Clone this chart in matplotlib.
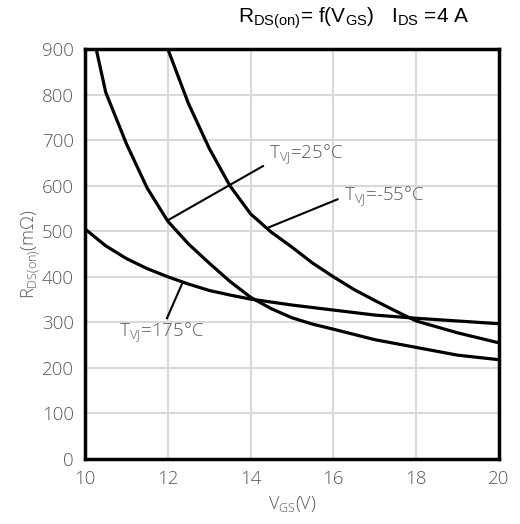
import matplotlib
matplotlib.use("Agg")
import matplotlib.pyplot as plt

# R_DS(on) vs V_GS at three junction temperatures
vgs_25 = [10.27, 10.5, 11.0, 11.5, 12.0, 12.5, 13.0, 13.5, 14.0, 14.5, 15.0, 15.5, 16.0, 17.0, 18.0, 19.0, 20.0]
r_25 = [900, 805, 692, 595, 522, 472, 430, 390, 355, 330, 310, 296, 285, 262, 245, 228, 218]

vgs_m55 = [12.0, 12.5, 13.0, 13.5, 14.0, 14.5, 15.0, 15.5, 16.0, 16.5, 17.0, 17.5, 18.0, 19.0, 20.0]
r_m55 = [900, 780, 682, 600, 538, 498, 465, 430, 400, 372, 348, 325, 303, 277, 255]

vgs_175 = [10.0, 10.5, 11.0, 11.5, 12.0, 12.5, 13.0, 13.5, 14.0, 15.0, 16.0, 17.0, 18.0, 19.0, 20.0]
r_175 = [505, 468, 440, 418, 400, 384, 370, 360, 351, 338, 327, 316, 309, 303, 297]

x_ticks = [10, 12, 14, 16, 18, 20]
y_ticks = [0, 100, 200, 300, 400, 500, 600, 700, 800, 900]

# curve labels: text, leader line start (on curve), leader line end, text anchor
labels = ["T$_{\\mathregular{VJ}}$=25°C", "T$_{\\mathregular{VJ}}$=-55°C", "T$_{\\mathregular{VJ}}$=175°C"]
leader_from = [(12.0, 524), (14.4, 507), (12.35, 386)]
leader_to = [(14.3, 643), (16.1, 570), (11.98, 309)]
label_at = [(14.45, 667), (16.25, 575), (11.85, 277)]
label_ha = ["left", "left", "center"]

GRAY = "#595959"
FAMILY = ["Open Sans", "DejaVu Sans"]

fig = plt.figure(figsize=(5.2, 5.24), dpi=100)
ax = fig.add_axes([0.1635, 0.124, 0.796, 0.7825])

for x, y in ((vgs_25, r_25), (vgs_m55, r_m55), (vgs_175, r_175)):
    ax.plot(x, y, color="black", lw=2.3, solid_capstyle="butt")

ax.set_xlim(10, 20)
ax.set_ylim(0, 900)
ax.set_xticks(x_ticks)
ax.set_yticks(y_ticks)
ax.grid(color="#d9d9d9", lw=1.5)
ax.set_axisbelow(True)
for s in ax.spines.values():
    s.set_linewidth(2.5)
ax.tick_params(length=0, pad=8, colors=GRAY, labelsize=13.5)
for lab in ax.get_xticklabels() + ax.get_yticklabels():
    lab.set_fontfamily(FAMILY)
    lab.set_fontweight("light")

ax.set_xlabel("V$_{\\mathregular{GS}}$(V)", color=GRAY, fontsize=13, labelpad=4,
              family=FAMILY, weight="light")
ax.set_ylabel("R$_{\\mathregular{DS(on)}}$(mΩ)", color=GRAY, fontsize=13, labelpad=0,
              family=FAMILY, weight="light")

fig.text(0.68, 0.965, "R$_{\\mathregular{DS(on)}}$= f(V$_{\\mathregular{GS}}$)   I$_{\\mathregular{DS}}$ =4 A",
         ha="center", va="center", fontsize=15, family="Liberation Sans")

for txt, p0, p1, pt, ha in zip(labels, leader_from, leader_to, label_at, label_ha):
    ax.plot([p0[0], p1[0]], [p0[1], p1[1]], color="black", lw=1.5)
    ax.text(pt[0], pt[1], txt, ha=ha, va="center", color=GRAY, fontsize=13.5,
            family=FAMILY, weight="light")

fig.savefig("out.png", dpi=100)
